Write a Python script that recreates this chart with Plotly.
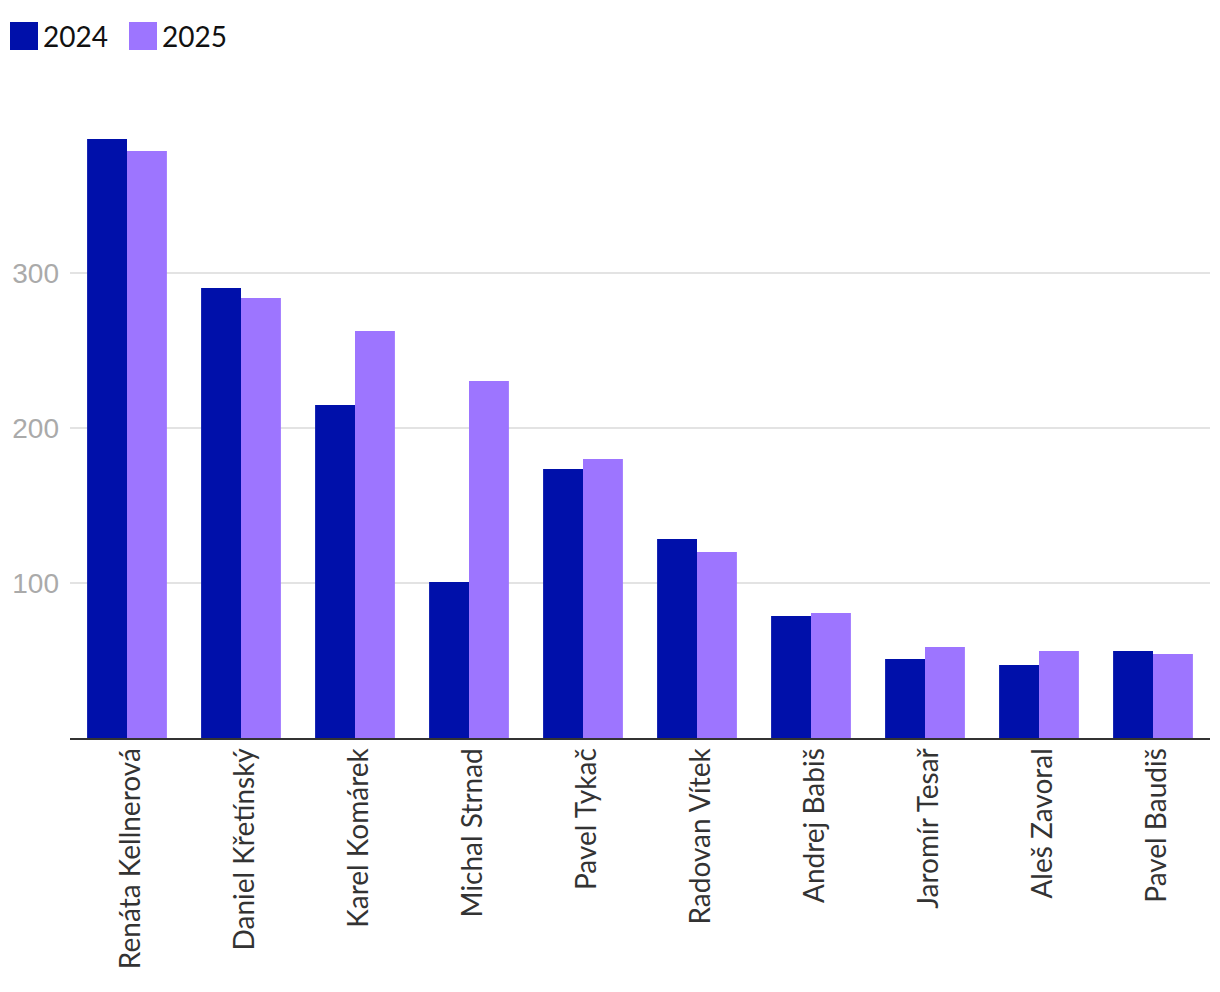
import plotly.graph_objects as go

names = ["Renáta Kellnerová", "Daniel Křetínský", "Karel Komárek", "Michal Strnad",
         "Pavel Tykač", "Radovan Vítek", "Andrej Babiš", "Jaromír Tesař",
         "Aleš Zavoral", "Pavel Baudiš"]
values_2024 = [386.5, 290.3, 214.8, 100.6, 173.5, 128.4, 78.7, 51.0, 47.1, 56.1]
values_2025 = [378.7, 283.9, 262.6, 230.3, 180.0, 120.0, 80.6, 58.7, 56.1, 54.2]
series_names = ["2024", "2025"]
colors = ["#0010aa", "#9d75ff"]

W, H = 1212, 984
ml, mr, mt, mb = 62, 10, 79, 254
pw, ph = W - ml - mr, H - mt - mb

fig = go.Figure()
for nm, vals, c in zip(series_names, [values_2024, values_2025], colors):
    fig.add_trace(go.Bar(x=names, y=vals, name=nm, marker=dict(color=c, line=dict(width=0)),
                         showlegend=False))

def px_x(p):
    return (p - ml) / pw

def px_y(p):
    return (H - mb - p) / ph

shapes = []
annotations = []
for i, (nm, c) in enumerate(zip(series_names, colors)):
    x0 = 2 + i * 119
    shapes.append(dict(type="rect", xref="paper", yref="paper",
                       x0=px_x(x0), x1=px_x(x0 + 28), y0=px_y(42), y1=px_y(14),
                       fillcolor=c, line=dict(width=0)))
    annotations.append(dict(text=nm, xref="paper", yref="paper", x=px_x(x0 + 31), y=px_y(28),
                            xanchor="left", yanchor="middle", showarrow=False,
                            font=dict(family="Lato", size=28, color="#111111")))

fig.update_layout(
    width=W, height=H,
    margin=dict(l=ml, r=mr, t=mt, b=mb, autoexpand=False),
    plot_bgcolor="white", paper_bgcolor="white",
    barmode="group", bargap=0.3, bargroupgap=0,
    shapes=shapes, annotations=annotations,
    xaxis=dict(tickangle=-90, tickfont=dict(family="Lato", size=28, color="#333333"),
               showline=True, linecolor="#333333", linewidth=2, ticks="", showgrid=False,
               automargin=False, ticklabelshift=4, ticklabelstandoff=-3),
    yaxis=dict(range=[0, 420], tickvals=[100, 200, 300], showgrid=True, gridcolor="#e3e3e3",
               gridwidth=1.5, zeroline=False, showline=False, ticks="", automargin=False,
               tickfont=dict(family="Liberation Sans", size=28, color="#aaaaaa"), ticklabelstandoff=10),
)

fig.write_html("out.html")
